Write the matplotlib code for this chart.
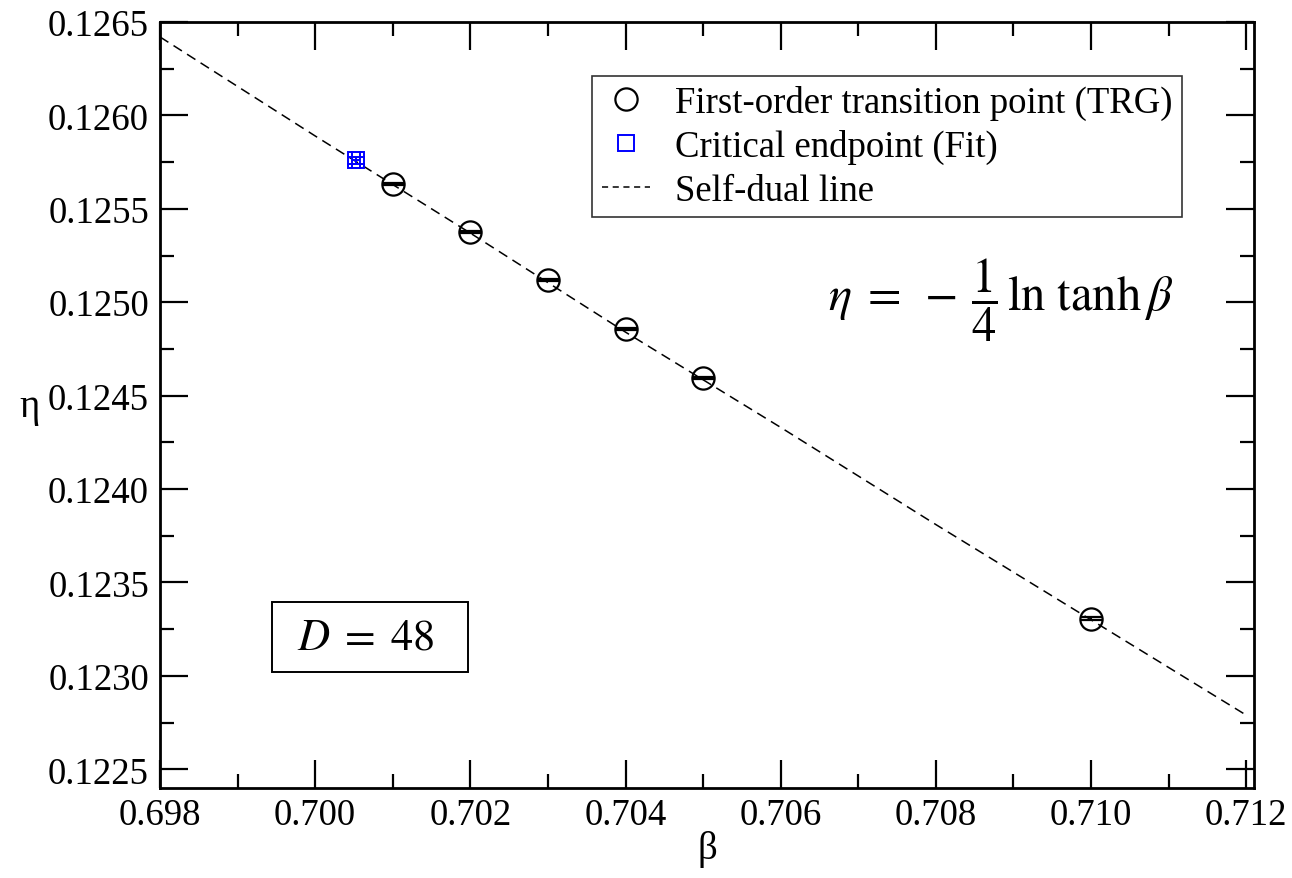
import matplotlib
matplotlib.use("Agg")
import matplotlib.pyplot as plt
from matplotlib.ticker import MultipleLocator, FormatStrFormatter
from matplotlib.lines import Line2D
from matplotlib.patches import Rectangle

plt.rcParams['font.family'] = ['Liberation Serif', 'DejaVu Serif']
plt.rcParams['mathtext.fontset'] = 'stix'

# Self-dual line
line_beta = [0.698, 0.700, 0.702, 0.704, 0.706, 0.708, 0.710, 0.712]
line_eta = [0.12642, 0.12589, 0.12537, 0.12484, 0.12433, 0.12381, 0.12330, 0.12279]

# First-order transition points (TRG)
trg_beta = [0.701, 0.702, 0.703, 0.704, 0.705, 0.710]
trg_eta = [0.125634, 0.125377, 0.125120, 0.124858, 0.124596, 0.123307]
trg_eta_err = [0.000006] * 6

# Critical endpoint (Fit)
cep_beta = [0.70053]
cep_eta = [0.12576]
cep_beta_err = [0.00005]
cep_eta_err = [0.00002]

W, H = 1292, 879
L, R, T, B = 160, 1254, 23, 789
fig = plt.figure(figsize=(W/100, H/100), dpi=100)
ax = fig.add_axes([L/W, 1-B/H, (R-L)/W, (B-T)/H])

def ax_x(px):
    return (px - L) / (R - L)

def ax_y(py):
    return (B - py) / (B - T)

ax.plot(line_beta, line_eta, ls=(0, (6.5, 4)), color='black', lw=1.1, zorder=2)
ax.errorbar(trg_beta, trg_eta, yerr=trg_eta_err, fmt='o', ms=16,
            mfc='none', mec='black', mew=1.6, ecolor='black', elinewidth=1.5,
            capsize=8, capthick=1.4, zorder=3)
ax.errorbar(cep_beta, cep_eta, xerr=cep_beta_err, yerr=cep_eta_err, fmt='s', ms=12,
            mfc='none', mec='blue', mew=1.4, ecolor='blue', elinewidth=1.4,
            capsize=6.5, capthick=1.4, zorder=4)

ax.set_xlim(0.698, 0.7121)
ax.set_ylim(0.1224, 0.1265)
ax.xaxis.set_major_locator(MultipleLocator(0.002))
ax.xaxis.set_minor_locator(MultipleLocator(0.001))
ax.yaxis.set_major_locator(MultipleLocator(0.0005))
ax.yaxis.set_minor_locator(MultipleLocator(0.00025))
ax.xaxis.set_major_formatter(FormatStrFormatter('%.3f'))
ax.yaxis.set_major_formatter(FormatStrFormatter('%.4f'))
ax.tick_params(which='both', direction='in', top=True, right=True, labelsize=26.5, width=1.6)
ax.tick_params(which='major', length=20)
ax.tick_params(axis='y', which='major', pad=8)
ax.tick_params(axis='x', which='major', pad=7)
ax.tick_params(which='minor', length=10)
for s in ax.spines.values():
    s.set_linewidth(2)

ax.set_xlabel('β', fontsize=28, va='center')
ax.xaxis.set_label_coords(0.5, ax_y(850))
ax.set_ylabel('η', fontsize=28, rotation=0, va='center', ha='center')
ax.yaxis.set_label_coords(ax_x(30), ax_y(407))

handles = [
    Line2D([], [], ls='none', marker='o', ms=16, mfc='none', mec='black', mew=1.6),
    Line2D([], [], ls='none', marker='s', ms=12, mfc='none', mec='blue', mew=1.4),
    Line2D([], [], ls=(0, (4, 3)), color='black', lw=1.1),
]
labels = ['First-order transition point (TRG)', 'Critical endpoint (Fit)', 'Self-dual line']
leg = ax.legend(handles, labels,
                loc='upper right', bbox_to_anchor=(ax_x(1182), ax_y(77)),
                fontsize=26.5, frameon=True, fancybox=False, edgecolor='black',
                handlelength=1.3, handletextpad=0.7, borderpad=0.25, labelspacing=0.24,
                borderaxespad=0)
leg.get_frame().set_linewidth(1.2)

ax.text(ax_x(1001), ax_y(300), r'$\eta\;=\;-\,\dfrac{1}{4}\,\ln\,\tanh\beta$',
        transform=ax.transAxes, fontsize=35, ha='center', va='center')

ax.add_patch(Rectangle((ax_x(272), ax_y(673)), ax_x(468) - ax_x(272), ax_y(603) - ax_y(673),
                       transform=ax.transAxes, fill=True, fc='white', ec='black', lw=1.4, zorder=5))
ax.text(ax_x(366), ax_y(638), r'$D\;=\;48$', transform=ax.transAxes,
        fontsize=32, ha='center', va='center', zorder=6)

fig.savefig('out.png', dpi=100)
